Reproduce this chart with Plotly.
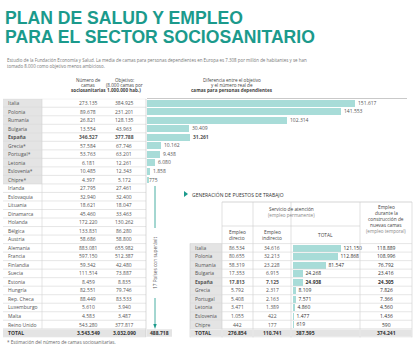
import plotly.graph_objects as go

W, H = 414, 349

# ---------------- data ----------------
titulo = ["PLAN DE SALUD Y EMPLEO", "PARA EL SECTOR SOCIOSANITARIO"]
subtitulo = ["Estudio de la Fundación Economía y Salud. La media de camas para personas dependientes en Europa es 7.308 por millón de habitantes y se han",
             "tomado 8.000 como objetivo menos ambicioso."]

paises = ["Italia", "Polonia", "Rumanía", "Bulgaria", "España", "Grecia*", "Portugal*", "Letonia",
          "Eslovenia*", "Chipre*", "Irlanda", "Eslovaquia", "Lituania", "Dinamarca", "Holanda",
          "Bélgica", "Austria", "Alemania", "Francia", "Finlandia", "Suecia", "Estonia", "Hungría",
          "Rep. Checa", "Luxemburgo", "Malta", "Reino Unido"]
camas = [273135, 89678, 26821, 13554, 346527, 57584, 53763, 6181, 10485, 4397, 27795, 32940,
         18621, 45460, 172220, 133831, 58686, 883081, 597150, 59342, 111514, 8459, 82551, 88449,
         5610, 4583, 543280]
objetivo = [384925, 231201, 128135, 43963, 377788, 67746, 63201, 12261, 12343, 5172, 27461, 32400,
            18047, 33463, 130262, 86280, 58800, 655982, 512387, 42480, 73887, 8835, 79746, 83533,
            3940, 3487, 377817]
diferencia = [151617, 141553, 102314, 30409, 31261, 10162, 9438, 6080, 1858, 775]
total_camas, total_objetivo, total_diferencia = 3543549, 3032090, 488718
nota = "* Estimación del número de camas sociosanitarias."
superavit_txt = "17 Países con superávit"

empleo_paises = ["Italia", "Polonia", "Rumanía", "Bulgaria", "España", "Grecia", "Portugal",
                 "Letonia", "Eslovenia", "Chipre"]
directo = [86534, 80655, 58319, 17353, 17813, 5792, 5408, 3471, 1055, 442]
indirecto = [34616, 32213, 23228, 6915, 7125, 2317, 2163, 1389, 422, 177]
total_empleo = [121150, 112868, 81547, 24268, 24938, 8109, 7571, 4860, 1477, 619]
construccion = [118889, 108996, 76792, 23416, 24305, 7826, 7366, 4560, 1436, 590]
totales_empleo = [276854, 110741, 387595, 374241]

# ---------------- style ----------------
TEAL = "#1b9a8c"
BAR = "#a8dcd8"
GRID = "#cfcfcf"
CELL = "#e4e4e4"
TXT = "#555555"
FONT = "Open Sans"
TFONT = "Liberation Sans"

ROW0, PITCH = 103.0, 8.52


def px(x):
    return x / W


def py(y):
    return 1 - y / H


def fmt(v):
    return f"{v:,}".replace(",", ".")


def b(s, bold):
    return f"<b>{s}</b>" if bold else s


fig = go.Figure()

# left bars: difference
fig.add_trace(go.Bar(
    x=diferencia, y=list(range(len(diferencia))), orientation="h",
    marker=dict(color=BAR, line=dict(width=0)), width=0.8,
    text=[b(fmt(v), p == "España") for p, v in zip(paises, diferencia)],
    textposition="outside", textfont=dict(size=5, color=TXT, family=FONT),
    cliponaxis=False, xaxis="x", yaxis="y", hoverinfo="skip"))

# lower bars: total employment
off = 17
fig.add_trace(go.Bar(
    x=total_empleo, y=[off + i for i in range(len(total_empleo))], orientation="h",
    marker=dict(color=BAR, line=dict(width=0)), width=0.8,
    text=[b(fmt(v), p == "España") for p, v in zip(empleo_paises, total_empleo)],
    textposition="outside", textfont=dict(size=5, color="#333333", family=FONT),
    cliponaxis=False, xaxis="x2", yaxis="y", hoverinfo="skip"))

shapes = []
ann = []


def A(x, y, s, size=5, color=TXT, xa="center", yref="paper", bold=False, family=FONT, **kw):
    ann.append(dict(x=px(x), y=(py(y) if yref == "paper" else y), xref="paper", yref=yref,
                    text=b(s, bold), showarrow=False, xanchor=xa, yanchor="middle",
                    font=dict(size=size, color=color, family=family), **kw))


def R(x0, x1, y0, y1, fill, yref="paper", line=None):
    shapes.append(dict(type="rect", xref="paper", yref=yref, x0=px(x0), x1=px(x1),
                       y0=(py(y0) if yref == "paper" else y0), y1=(py(y1) if yref == "paper" else y1),
                       fillcolor=fill, line=line or dict(width=0), layer="below"))


def L(x0, y0, x1, y1, color=GRID, width=0.6, yref="paper"):
    shapes.append(dict(type="line", xref="paper", yref=yref, x0=px(x0), x1=px(x1),
                       y0=(py(y0) if yref == "paper" else y0), y1=(py(y1) if yref == "paper" else y1),
                       line=dict(color=color, width=width), layer="above"))


# title
A(4, 17.5, titulo[0], size=17.6, color=TEAL, xa="left", bold=True, family=TFONT,
  height=17, valign="middle", borderpad=0)
A(4, 36.8, titulo[1], size=17.6, color=TEAL, xa="left", bold=True, family=TFONT,
  height=17, valign="middle", borderpad=0)
A(5, 60, subtitulo[0], size=4.45, color="#777777", xa="left")
A(5, 66, subtitulo[1], size=4.45, color="#777777", xa="left")

# left table header
for k, s in enumerate(["Número de", "camas", "sociosanitarias"]):
    A(88, 80 + 5 * k, s, size=4.6, color="#444444", bold=(k == 2))
for k, s in enumerate(["Objetivo:", "(8.000 camas por", "1.000.000 hab.)"]):
    A(124, 80 + 5 * k, s, size=4.6, color="#444444", bold=(k == 2))
for k, s in enumerate(["Diferencia entre el objetivo", "y el número real de",
                       "camas para personas dependientes"]):
    A(232, 80 + 5 * k, s, size=4.6, color="#444444", bold=(k == 2))
L(147, 98.5, 407, 98.5, color="#bbbbbb", width=0.8)

# left table body
n = len(paises)
for i in range(n):
    if i < len(diferencia):
        R(3, 42, i - 0.5, i + 0.5, CELL, yref="y")
    bold = paises[i] == "España"
    A(6, 0, paises[i], xa="left", yref="y", bold=bold, size=5)
    ann[-1]["y"] = i
    A(88, 0, fmt(camas[i]), yref="y", bold=bold, size=5)
    ann[-1]["y"] = i
    A(124, 0, fmt(objetivo[i]), yref="y", bold=bold, size=5)
    ann[-1]["y"] = i
for i in range(n + 1):
    L(3, i - 0.5, 146, i - 0.5, yref="y", color="#d5d5d5", width=0.6)
L(3, 27.5, 146, 27.5, yref="y", color="#bdbdbd", width=0.6)
L(146, -0.5, 146, 27.5, yref="y", color="#c5c5c5", width=0.6)
L(42, -0.5, 42, 26.5, yref="y", color="#d5d5d5", width=0.6)
# total row
R(3, 146, 26.55, 27.45, CELL, yref="y")
R(147, 172, 26.55, 27.45, CELL, yref="y")
for x, s, xa in [(6, "TOTAL", "left"), (88, fmt(total_camas), "center"),
                 (124, fmt(total_objetivo), "center"), (159.5, fmt(total_diferencia), "center")]:
    A(x, 0, s, xa=xa, yref="y", bold=True, size=5, color="#333333")
    ann[-1]["y"] = 27
A(5, 342, nota, xa="left", size=4.6, color="#666666")

# superavit arrow
L(155, 186, 155, 228, color=TEAL, width=0.8)
L(155, 298, 155, 326, color=TEAL, width=0.8)
shapes.append(dict(type="path", xref="paper", yref="paper",
                   path=f"M {px(153.3)} {py(324)} L {px(156.7)} {py(324)} L {px(155)} {py(329)} Z",
                   fillcolor=TEAL, line=dict(width=0)))
A(155, 263, superavit_txt, size=4.8, color="#555555", textangle=-90)

# lower table title
shapes.append(dict(type="path", xref="paper", yref="paper",
                   path=f"M {px(184)} {py(191)} L {px(188)} {py(194)} L {px(184)} {py(197)} Z",
                   fillcolor=TEAL, line=dict(width=0)))
A(190, 194, "GENERACIÓN DE PUESTOS DE TRABAJO", xa="left", size=5, color="#333333")

# lower table frame
XL = [190, 222, 253, 291, 360, 412]
L(222, 202, 412, 202, color="#bbbbbb")
L(222, 226, 360, 226, color="#cccccc")
for x in XL[1:]:
    L(x, 202, x, 337.3, color="#cccccc")
L(190, 243.5, 190, 337.3, color="#cccccc")
A(291, 209, "Servicio de atención", size=4.8, color="#444444")
A(291, 215, "(empleo permanente)", size=4.6, color="#888888")
for k, s in enumerate(["Empleo", "durante la", "construcción de", "nuevas camas"]):
    A(386, 207 + 6 * k, s, size=4.8, color="#444444")
A(386, 231, "(empleo temporal)", size=4.6, color="#888888")
A(237, 232, "Empleo", size=4.8, color="#444444")
A(237, 238, "directo", size=4.8, color="#444444")
A(272, 232, "Empleo", size=4.8, color="#444444")
A(272, 238, "indirecto", size=4.8, color="#444444")
A(325, 235, "TOTAL", size=4.8, color="#444444")

for i, p in enumerate(empleo_paises):
    yi = off + i
    bold = p == "España"
    R(190, 222, yi - 0.5, yi + 0.5, CELL, yref="y")
    for x, s, xa in [(193, p, "left"), (237, fmt(directo[i]), "center"),
                     (272, fmt(indirecto[i]), "center"), (386, fmt(construccion[i]), "center")]:
        A(x, 0, s, xa=xa, yref="y", bold=bold, size=5,
          color=("#333333" if x == 386 else TXT))
        ann[-1]["y"] = yi
for i in range(11):
    L(190, off + i - 0.5, 412, off + i - 0.5, yref="y", color="#d5d5d5")
L(190, 27.5, 412, 27.5, yref="y", color="#bdbdbd")
for x0, x1 in zip(XL[:-1], XL[1:]):
    R(x0 + 0.5, x1 - 0.5, 26.58, 27.42, CELL, yref="y")
for x, s, xa in [(193, "TOTAL", "left"), (237, fmt(totales_empleo[0]), "center"),
                 (272, fmt(totales_empleo[1]), "center"), (294, fmt(totales_empleo[2]), "left"),
                 (386, fmt(totales_empleo[3]), "center")]:
    A(x, 0, s, xa=xa, yref="y", bold=True, size=5, color="#333333")
    ann[-1]["y"] = 27

ydom = [py(ROW0 + 27.5 * PITCH), py(ROW0 - 0.5 * PITCH)]
fig.update_layout(
    width=W, height=H, margin=dict(l=0, r=0, t=0, b=0),
    paper_bgcolor="white", plot_bgcolor="rgba(0,0,0,0)",
    showlegend=False, bargap=0,
    font=dict(family=FONT),
    xaxis=dict(domain=[px(147), 1], range=[0, (W - 147) / 1.37 * 1000], visible=False,
               fixedrange=True, anchor="y"),
    xaxis2=dict(domain=[px(292.5), px(412)], range=[0, (412 - 292.5) / 0.40 * 1000],
                visible=False, fixedrange=True, anchor="y"),
    yaxis=dict(domain=ydom, range=[27.5, -0.5], visible=False, fixedrange=True),
    shapes=shapes, annotations=ann,
)

fig.write_html("out.html")
